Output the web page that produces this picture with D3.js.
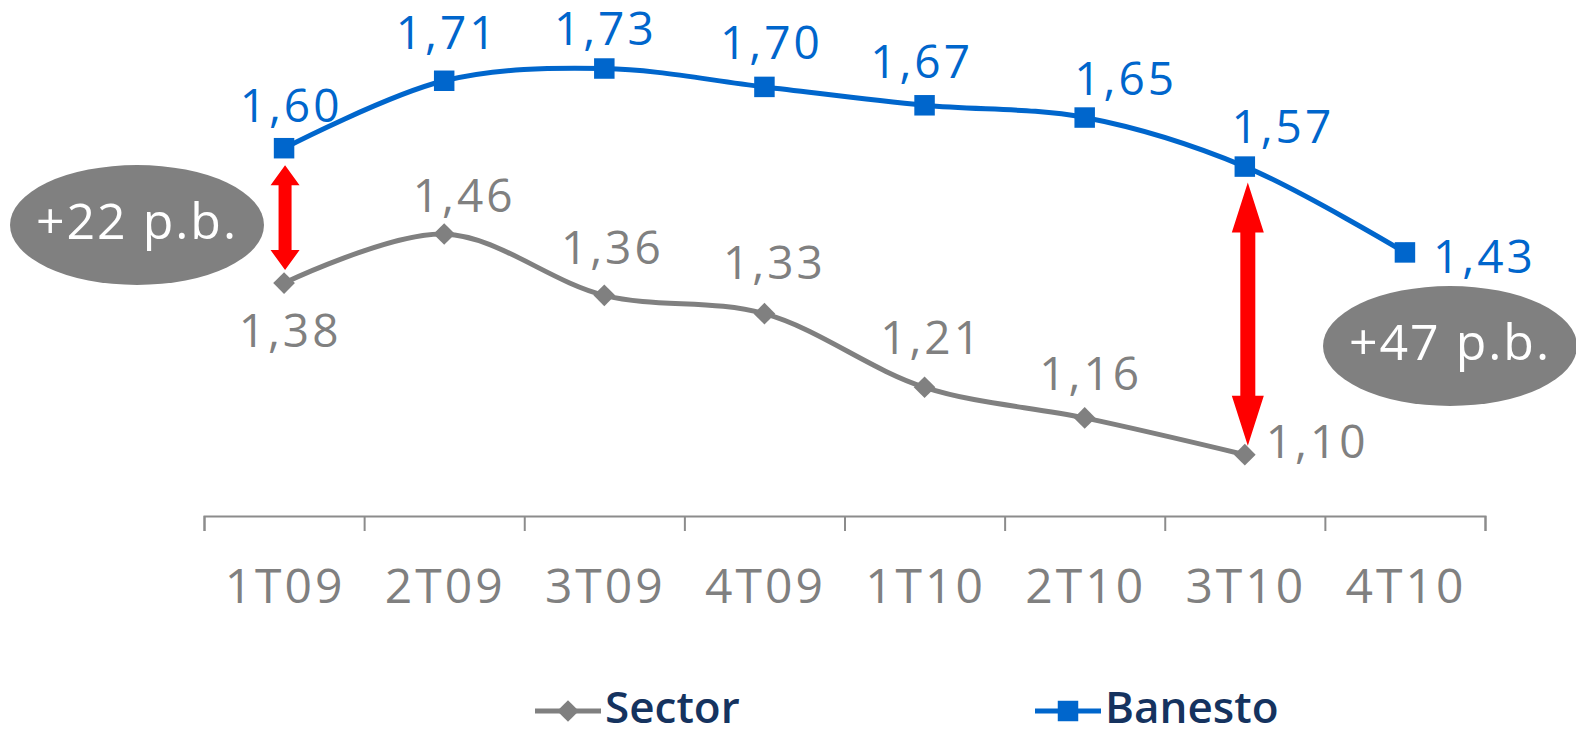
<!DOCTYPE html>
<html>
<head>
<meta charset="utf-8">
<script src="https://cdn.jsdelivr.net/npm/d3@7"></script>
<style>
  body { margin: 0; background: #fff; }
  svg { display: block; font-family: "Open Sans", sans-serif; }
</style>
</head>
<body>
<div id="chart"></div>
<script>
// data
var categories = ["1T09", "2T09", "3T09", "4T09", "1T10", "2T10", "3T10", "4T10"];
var sector  = [1.38, 1.46, 1.36, 1.33, 1.21, 1.16, 1.10, null];
var banesto = [1.60, 1.71, 1.73, 1.70, 1.67, 1.65, 1.57, 1.43];
var seriesNames = ["Sector", "Banesto"];
// spread callouts: category index, text
var spreads = [
  { i: 0, text: "+22 p.b." },
  { i: 6, text: "+47 p.b." }
];

// label placement (dx, dy from the point, anchor) - nudged like the original
var sectorLabelPos = [[6, 64, "middle"], [20, -22, "middle"], [8, -31, "middle"], [10, -35, "middle"],
                      [7, -33, "middle"], [6, -28, "middle"], [21, 3, "start"]];
var banestoLabelPos = [[7, -26, "middle"], [3, -32, "middle"], [1, -24, "middle"], [7, -28, "middle"],
                       [-3, -27, "middle"], [41, -23, "middle"], [38, -24, "middle"], [28, 21, "start"]];

var W = 1576, H = 735;
var blue = "#0066cc", grey = "#808080", navy = "#15335f", red = "#ff0000";

var svg = d3.select("#chart").append("svg")
    .attr("width", W)
    .attr("height", H);

// scales
var x = d3.scaleBand().domain(categories).range([204, 1485]).padding(0);
var y = d3.scaleLinear().domain([1.0, 1.8]).range([516, 25.6]);
var cx = function(i) { return x(categories[i]) + x.bandwidth() / 2; };

// axis: line with ticks at the band edges
var edges = d3.scaleLinear().domain([0, categories.length]).range(x.range());
svg.append("g")
    .attr("transform", "translate(0," + y(1.0) + ")")
    .call(d3.axisBottom(edges).ticks(categories.length).tickSize(15).tickSizeOuter(15).tickFormat(""))
    .call(function(g) {
      g.select(".domain").attr("stroke", "#8c8c8c").attr("stroke-width", 2);
      g.selectAll(".tick line").attr("stroke", "#8c8c8c").attr("stroke-width", 2);
    });

// category labels
svg.append("g")
  .selectAll("text")
  .data(categories)
  .enter().append("text")
    .attr("x", function(d) { return x(d) + x.bandwidth() / 2 + 1; })
    .attr("y", 603)
    .attr("text-anchor", "middle")
    .attr("fill", grey)
    .attr("font-size", 48)
    .attr("letter-spacing", 3)
    .text(function(d) { return d; });

// smoothed lines
var line = d3.line()
    .defined(function(d) { return d != null; })
    .x(function(d, i) { return cx(i); })
    .y(function(d) { return y(d); })
    .curve(d3.curveCatmullRom.alpha(0.5));

svg.append("path")
    .datum(sector)
    .attr("fill", "none")
    .attr("stroke", grey)
    .attr("stroke-width", 5)
    .attr("d", line);

svg.append("path")
    .datum(banesto)
    .attr("fill", "none")
    .attr("stroke", blue)
    .attr("stroke-width", 5)
    .attr("d", line);

// markers
var diamond = d3.symbol().type(d3.symbolDiamond2).size(300);
var square = d3.symbol().type(d3.symbolSquare).size(420);

svg.append("g")
  .selectAll("path")
  .data(sector.map(function(v, i) { return { v: v, i: i }; }).filter(function(d) { return d.v != null; }))
  .enter().append("path")
    .attr("d", diamond)
    .attr("fill", grey)
    .attr("transform", function(d) { return "translate(" + cx(d.i) + "," + y(d.v) + ")"; });

svg.append("g")
  .selectAll("path")
  .data(banesto.map(function(v, i) { return { v: v, i: i }; }))
  .enter().append("path")
    .attr("d", square)
    .attr("fill", blue)
    .attr("transform", function(d) { return "translate(" + cx(d.i) + "," + y(d.v) + ")"; });

// value labels
var fmt = function(v) { return d3.format(".2f")(v).replace(".", ","); };

function valueLabels(data, pos, color) {
  svg.append("g")
    .selectAll("text")
    .data(data.map(function(v, i) { return { v: v, i: i }; }).filter(function(d) { return d.v != null; }))
    .enter().append("text")
      .attr("x", function(d) { return cx(d.i) + pos[d.i][0]; })
      .attr("y", function(d) { return y(d.v) + pos[d.i][1]; })
      .attr("text-anchor", function(d) { return pos[d.i][2]; })
      .attr("fill", color)
      .attr("font-size", 46)
      .attr("letter-spacing", 3)
      .text(function(d) { return fmt(d.v); });
}
valueLabels(sector, sectorLabelPos, grey);
valueLabels(banesto, banestoLabelPos, blue);

// red double arrows between the two series
function doubleArrow(xc, y1, y2, shaft, headW, headL) {
  var p = [
    [xc, y1], [xc + headW / 2, y1 + headL], [xc + shaft / 2, y1 + headL],
    [xc + shaft / 2, y2 - headL], [xc + headW / 2, y2 - headL], [xc, y2],
    [xc - headW / 2, y2 - headL], [xc - shaft / 2, y2 - headL],
    [xc - shaft / 2, y1 + headL], [xc - headW / 2, y1 + headL]
  ];
  svg.append("path")
      .attr("d", "M" + p.join("L") + "Z")
      .attr("fill", red);
}
doubleArrow(cx(spreads[0].i) + 1, y(banesto[spreads[0].i]) + 17, y(sector[spreads[0].i]) - 13, 13, 29, 20);
doubleArrow(cx(spreads[1].i) + 3, y(banesto[spreads[1].i]) + 16, y(sector[spreads[1].i]) - 9, 15, 32, 50);

// spread bubbles
var bubbles = [
  { cx: 137, cy: 225, text: spreads[0].text },
  { cx: 1450, cy: 346, text: spreads[1].text }
];
var bub = svg.append("g").selectAll("g").data(bubbles).enter().append("g");
bub.append("ellipse")
    .attr("cx", function(d) { return d.cx; })
    .attr("cy", function(d) { return d.cy; })
    .attr("rx", 127)
    .attr("ry", 60)
    .attr("fill", grey);
bub.append("text")
    .attr("x", function(d) { return d.cx; })
    .attr("y", function(d) { return d.cy + 14; })
    .attr("text-anchor", "middle")
    .attr("fill", "#fff")
    .attr("font-size", 50)
    .attr("letter-spacing", 2)
    .text(function(d) { return d.text; });

// legend
var legend = [
  { name: seriesNames[0], x: 535, sym: diamond, color: grey },
  { name: seriesNames[1], x: 1035, sym: square, color: blue }
];
var lg = svg.append("g").selectAll("g").data(legend).enter().append("g")
    .attr("transform", function(d) { return "translate(" + d.x + ",711)"; });
lg.append("line")
    .attr("x1", 0).attr("x2", 66)
    .attr("stroke", function(d) { return d.color; })
    .attr("stroke-width", 5);
lg.append("path")
    .attr("d", function(d) { return d.sym(); })
    .attr("transform", "translate(33,0)")
    .attr("fill", function(d) { return d.color; });
lg.append("text")
    .attr("x", 70)
    .attr("y", 12)
    .attr("fill", navy)
    .attr("font-size", 44)
    .attr("font-weight", 600)
    .text(function(d) { return d.name; });
</script>
</body>
</html>
